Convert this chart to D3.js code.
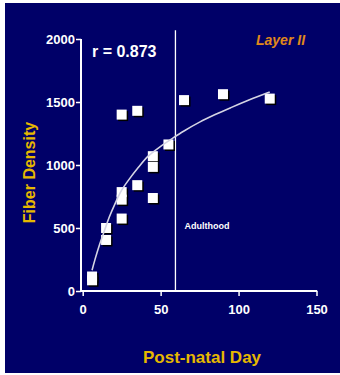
<!DOCTYPE html>
<html>
<head>
<meta charset="utf-8">
<script src="https://cdn.jsdelivr.net/npm/d3@7"></script>
<style>
  body { margin: 0; background: #fff; }
  svg { display: block; font-family: "Liberation Sans", Arial, sans-serif; }
</style>
</head>
<body>
<div id="chart"></div>
<script>
// scatter: post-natal day vs fiber density
var days = [6, 6, 15, 15, 25, 25, 25, 25, 35, 35, 45, 45, 45, 55, 65, 90, 120];
var density = [115, 85, 500, 405, 1400, 785, 725, 575, 1430, 840, 1070, 985, 738, 1163, 1515, 1562, 1527];

// fitted curve
var fitDays = [6, 8, 11, 14, 17, 21, 25, 30, 35, 42, 50, 58, 65, 75, 85, 95, 107, 120];
var fitDensity = [165, 255, 375, 480, 585, 700, 800, 890, 970, 1070, 1148, 1215, 1270, 1340, 1400, 1455, 1518, 1580];

var xTicks = [0, 50, 100, 150];
var yTicks = [0, 500, 1000, 1500, 2000];
var adulthood = 59.5;
var rLabel = "r = 0.873";

var W = 340, H = 375;
var svg = d3.select("#chart").append("svg")
  .attr("width", W)
  .attr("height", H);

svg.append("rect")
  .attr("x", 5).attr("y", 3)
  .attr("width", W - 5).attr("height", 370)
  .attr("fill", "#000068");

var x = d3.scaleLinear().domain([0, 150]).range([82.7, 316.5]);
var y = d3.scaleLinear().domain([0, 2000]).range([291, 39]);
var axisX = 81;

// adulthood line
svg.append("line")
  .attr("x1", x(adulthood)).attr("x2", x(adulthood))
  .attr("y1", y(2070)).attr("y2", y(0))
  .attr("stroke", "#fff").attr("stroke-width", 1.3);

svg.append("text")
  .attr("x", x(adulthood) + 9).attr("y", y(500) + 1)
  .attr("fill", "#fff").attr("font-size", 9).attr("font-weight", "bold")
  .text("Adulthood");

// Y axis
var gy = svg.append("g")
  .attr("transform", "translate(" + axisX + ",0)")
  .call(d3.axisLeft(y).tickValues(yTicks).tickFormat(d3.format("d"))
    .tickSize(5).tickPadding(1).tickSizeOuter(0));
gy.select(".domain").remove();
gy.selectAll("line").attr("stroke", "#fff").attr("stroke-width", 1.5);
gy.selectAll("text").attr("fill", "#fff").attr("font-size", 13).attr("font-weight", "bold")
  .attr("font-family", "Liberation Sans, Arial, sans-serif");

// X axis
var gx = svg.append("g")
  .attr("transform", "translate(0," + y(0) + ")")
  .call(d3.axisBottom(x).tickValues(xTicks).tickFormat(d3.format("d"))
    .tickSize(5).tickSizeOuter(0));
gx.select(".domain").remove();
gx.selectAll("line").attr("stroke", "#fff").attr("stroke-width", 1.5);
gx.selectAll("text").attr("fill", "#fff").attr("font-size", 13).attr("font-weight", "bold")
  .attr("font-family", "Liberation Sans, Arial, sans-serif")
  .attr("y", 23).attr("dy", 0);

// axis lines
svg.append("line")
  .attr("x1", axisX).attr("x2", axisX)
  .attr("y1", y(2000)).attr("y2", y(0) + 1)
  .attr("stroke", "#fff").attr("stroke-width", 2);
svg.append("line")
  .attr("x1", axisX - 1).attr("x2", x(150) + 0.7)
  .attr("y1", y(0)).attr("y2", y(0))
  .attr("stroke", "#fff").attr("stroke-width", 2);

// points (shadow then square)
var pts = days.map((d, i) => ({day: d, val: density[i]}));
var s = 10;
svg.append("g").selectAll("rect")
  .data(pts).join("rect")
    .attr("x", d => x(d.day) - s / 2 + 1.5)
    .attr("y", d => y(d.val) - s / 2 + 1.5)
    .attr("width", s).attr("height", s)
    .attr("fill", "#000");
svg.append("g").selectAll("rect")
  .data(pts).join("rect")
    .attr("x", d => x(d.day) - s / 2)
    .attr("y", d => y(d.val) - s / 2)
    .attr("width", s).attr("height", s)
    .attr("fill", "#fff");

// fit curve
var fit = fitDays.map((d, i) => ({day: d, val: fitDensity[i]}));
svg.append("path")
  .datum(fit)
  .attr("fill", "none")
  .attr("stroke", "#d4d4e4")
  .attr("stroke-width", 1.6)
  .attr("d", d3.line()
    .x(d => x(d.day))
    .y(d => y(d.val))
    .curve(d3.curveCatmullRom)
  );

// labels
svg.append("text")
  .attr("x", 92).attr("y", 56.5)
  .attr("fill", "#fff").attr("font-size", 16).attr("font-weight", "bold")
  .text(rLabel);

svg.append("text")
  .attr("x", 256).attr("y", 44.5)
  .attr("fill", "#e0891a").attr("font-size", 14).attr("font-weight", "bold")
  .attr("font-style", "italic")
  .text("Layer II");

svg.append("text")
  .attr("x", 202).attr("y", 362.5)
  .attr("text-anchor", "middle")
  .attr("fill", "#e6b800").attr("font-size", 17).attr("font-weight", "bold")
  .text("Post-natal Day");

svg.append("text")
  .attr("transform", "translate(35,172.5) rotate(-90)")
  .attr("text-anchor", "middle")
  .attr("fill", "#e6b800").attr("font-size", 16).attr("font-weight", "bold")
  .text("Fiber Density");
</script>
</body>
</html>
